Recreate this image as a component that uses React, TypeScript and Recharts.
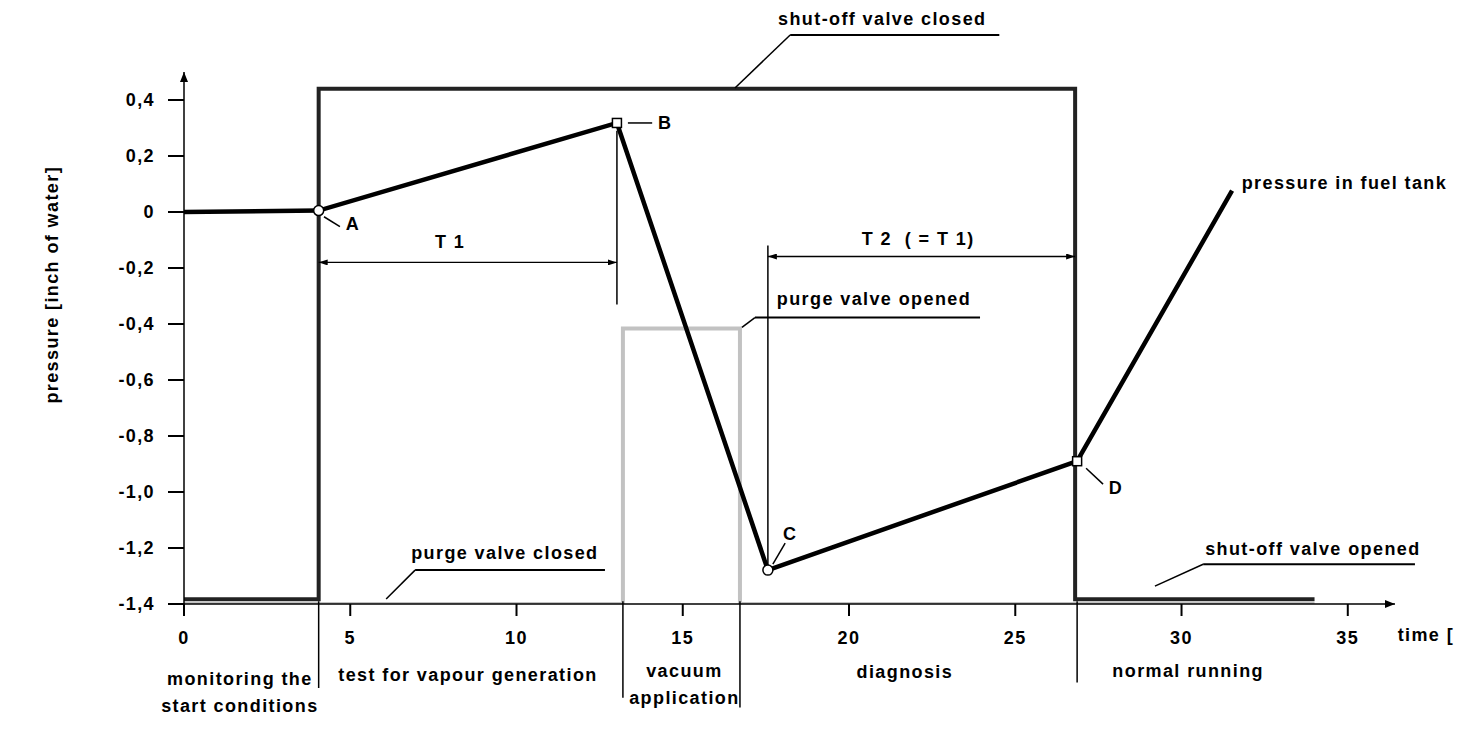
import React from "react"
import { ComposedChart, Line, XAxis, YAxis, ReferenceLine, ReferenceDot } from "recharts"

const xTicks = [0, 5, 10, 15, 20, 25, 30, 35]
const yTicks = [-1.4, -1.2, -1, -0.8, -0.6, -0.4, -0.2, 0, 0.2, 0.4]

// pressure in fuel tank
const pressureTime = [0, 4.05, 13.02, 17.56, 26.86, 31.52]
const pressureValue = [0, 0.005, 0.318, -1.279, -0.89, 0.076]
const pressureMark = ["", "A", "B", "C", "D", ""]

// shut-off valve (closed = high)
const shutOffTime = [0, 4.05, 4.05, 26.8, 26.8, 34.0]
const shutOffValue = [-1.383, -1.383, 0.44, 0.44, -1.383, -1.383]

// purge valve (opened = high)
const purgeTime = [0, 13.2, 13.2, 16.72, 16.72, 34.0]
const purgeValue = [-1.4, -1.4, -0.416, -0.416, -1.4, -1.4]

// phases along the time axis
const phaseNames = [["monitoring the", "start conditions"], ["test for vapour generation"], ["vacuum", "application"], ["diagnosis"], ["normal running"]]
const phaseCenter = [1.68, 8.54, 15.05, 21.68, 30.2]
const phaseLabelY = [-1.665, -1.651, -1.637, -1.641, -1.637]
const phaseBound = [4.05, 13.2, 16.72, 26.86]
const phaseBoundEnd = [-1.7, -1.735, -1.77, -1.68]

// callouts: text, text position, underline, leader end
const calloutText = ["shut-off valve closed", "purge valve opened", "purge valve closed", "shut-off valve opened"]
const calloutX = [21.0, 20.75, 9.65, 33.95]
const calloutY = [0.689, -0.309, -1.218, -1.201]
const underlineFrom = [18.23, 17.17, 6.95, 30.65]
const underlineTo = [24.52, 23.94, 12.66, 37.02]
const underlineY = [0.632, -0.377, -1.279, -1.258]
const leaderX = [16.57, 16.78, 6.08, 29.2]
const leaderY = [0.443, -0.412, -1.382, -1.336]

// point letters
const markLabelX = [5.08, 14.47, 18.23, 28.03]
const markLabelY = [-0.042, 0.318, -1.148, -0.983]
const markLeader = [
  [4.21, -0.017, 4.69, -0.052],
  [13.35, 0.318, 14.08, 0.318],
  [18.08, -1.183, 17.71, -1.258],
  [27.13, -0.915, 27.64, -0.972],
]

// T1 / T2 time spans
const spanText = ["T 1", "T 2  ( = T 1)"]
const spanFrom = [4.05, 17.56]
const spanTo = [13.02, 26.8]
const spanY = [-0.18, -0.159]
const spanLabelX = [8.0, 22.08]
const spanLabelY = [-0.106, -0.095]
const extLineX = [13.02, 17.56]
const extLineTop = [0.29, -0.12]
const extLineBottom = [-0.33, -1.27]

const toRows = (xs: number[], ys: number[]) => xs.map((x, i) => ({ x, y: ys[i] }))
const pressureData = pressureTime.map((x, i) => ({ x, y: pressureValue[i], mark: pressureMark[i] }))
const shutOffData = toRows(shutOffTime, shutOffValue)
const purgeData = toRows(purgeTime, purgeValue)

const FONT = "'Liberation Sans', Arial, Helvetica, sans-serif"
const FS = 18
const LS = 1.4

const textShape = (lines: string[], anchor: "start" | "middle" | "end" = "middle", rotate = 0) =>
  (p: any) => (
    <text
      x={p.cx}
      y={p.cy}
      textAnchor={anchor}
      fontFamily={FONT}
      fontWeight={700}
      fontSize={FS}
      letterSpacing={LS}
      fill="#000"
      style={{ whiteSpace: "pre" }}
      transform={rotate ? `rotate(${rotate} ${p.cx} ${p.cy})` : undefined}
    >
      {lines.map((l, i) => (
        <tspan key={i} x={p.cx} dy={i === 0 ? "0.35em" : 27}>{l}</tspan>
      ))}
    </text>
  )

const renderPressureDot = (p: any) => {
  const m = p.payload?.mark
  if (!m) return <g key={p.index} />
  if (m === "B" || m === "D")
    return <rect key={p.index} x={p.cx - 4.5} y={p.cy - 4.5} width={9} height={9} fill="#fff" stroke="#000" strokeWidth={1.5} />
  return <circle key={p.index} cx={p.cx} cy={p.cy} r={5} fill="#fff" stroke="#000" strokeWidth={1.5} />
}

const seg = (x1: number, y1: number, x2: number, y2: number, key: string, w = 1.5, extra: any = {}) => (
  <ReferenceLine
    key={key}
    segment={[{ x: x1, y: y1 }, { x: x2, y: y2 }]}
    stroke="#000"
    strokeWidth={w}
    ifOverflow="visible"
    {...extra}
  />
)

const note = (x: number, y: number, key: string, shape: any) => (
  <ReferenceDot key={key} x={x} y={y} r={1} ifOverflow="visible" shape={shape} />
)

const tickStyle = { fill: "#000", fontSize: FS, fontWeight: 700, fontFamily: FONT, letterSpacing: LS }

export default function App() {
  return (
    <div>
      <svg width={0} height={0} style={{ position: "absolute" }}>
        <defs>
          <marker id="axisArrow" viewBox="0 0 10 8" refX={10} refY={4} markerWidth={10} markerHeight={8} markerUnits="userSpaceOnUse" orient="auto-start-reverse">
            <path d="M0,0 L10,4 L0,8 z" fill="#000" />
          </marker>
          <marker id="dimArrow" viewBox="0 0 9 6" refX={9} refY={3} markerWidth={9} markerHeight={6} markerUnits="userSpaceOnUse" orient="auto-start-reverse">
            <path d="M0,0 L9,3 L0,6 z" fill="#000" />
          </marker>
        </defs>
      </svg>
      <ComposedChart width={1456} height={738} margin={{ top: 64, right: 69, bottom: 112, left: 0 }}>
        <XAxis
          dataKey="x"
          type="number"
          domain={[0, 36.42]}
          ticks={xTicks}
          allowDataOverflow
          height={30}
          tickSize={12}
          tickMargin={15}
          axisLine={{ stroke: "#000", strokeWidth: 1.5, markerEnd: "url(#axisArrow)" }}
          tickLine={{ stroke: "#000", strokeWidth: 2 }}
          tick={tickStyle}
        />
        <YAxis
          type="number"
          domain={[-1.4, 0.5]}
          ticks={yTicks}
          allowDataOverflow
          width={176}
          tickSize={16}
          tickMargin={13}
          tickFormatter={(v: number) => (v === 0 ? "0" : v.toFixed(1).replace(".", ","))}
          axisLine={{ stroke: "#000", strokeWidth: 1.5, markerStart: "url(#axisArrow)" }}
          tickLine={{ stroke: "#000", strokeWidth: 2 }}
          tick={tickStyle}
        />

        <Line data={purgeData} dataKey="y" type="linear" stroke="#c2c2c2" strokeWidth={4} dot={false} isAnimationActive={false} />
        <Line data={shutOffData} dataKey="y" type="linear" stroke="#222" strokeWidth={4} dot={false} isAnimationActive={false} />
        <Line data={pressureData} dataKey="y" type="linear" stroke="#000" strokeWidth={4.5} dot={renderPressureDot} activeDot={false} isAnimationActive={false} />

        {phaseBound.map((x, i) => seg(x, -1.39, x, phaseBoundEnd[i], `pb${i}`, 1.5))}
        {phaseNames.map((lines, i) => note(phaseCenter[i], phaseLabelY[i], `pn${i}`, textShape(lines)))}

        {spanText.map((t, i) => seg(spanFrom[i], spanY[i], spanTo[i], spanY[i], `sp${i}`, 1.3, { markerStart: "url(#dimArrow)", markerEnd: "url(#dimArrow)" }))}
        {spanText.map((t, i) => note(spanLabelX[i], spanLabelY[i], `st${i}`, textShape([t])))}
        {extLineX.map((x, i) => seg(x, extLineTop[i], x, extLineBottom[i], `ex${i}`, 1.5))}

        {calloutText.map((t, i) => seg(underlineFrom[i], underlineY[i], underlineTo[i], underlineY[i], `ul${i}`, 2))}
        {calloutText.map((t, i) => seg(underlineFrom[i], underlineY[i], leaderX[i], leaderY[i], `ld${i}`, 1.5))}
        {calloutText.map((t, i) => note(calloutX[i], calloutY[i], `ct${i}`, textShape([t])))}

        {markLeader.map((s, i) => seg(s[0], s[1], s[2], s[3], `ml${i}`, 1.5))}
        {["A", "B", "C", "D"].map((t, i) => note(markLabelX[i], markLabelY[i], `mt${i}`, textShape([t])))}

        {note(34.9, 0.104, "fuel", textShape(["pressure in fuel tank"]))}
        {note(36.5, -1.511, "time", textShape(["time ["], "start"))}
        {note(-3.97, -0.26, "ylab", textShape(["pressure [inch of water]"], "middle", -90))}
      </ComposedChart>
    </div>
  )
}
